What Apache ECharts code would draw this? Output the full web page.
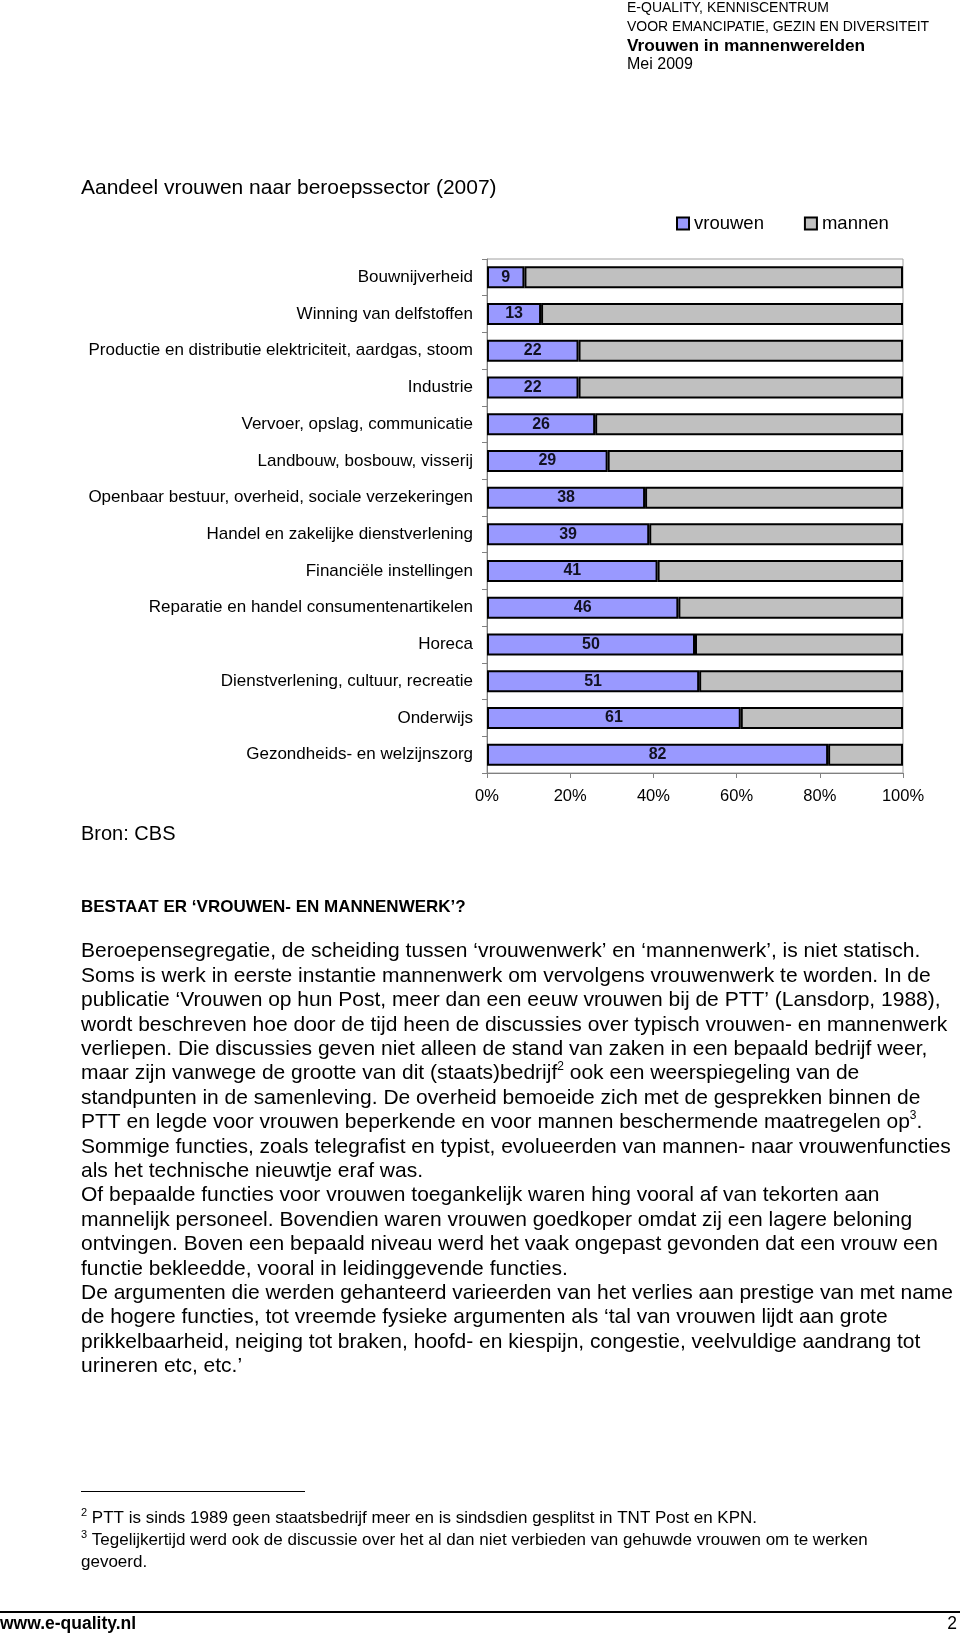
<!DOCTYPE html>
<html>
<head>
<meta charset="utf-8">
<script src="https://cdn.jsdelivr.net/npm/echarts@6/dist/echarts.min.js"></script>
<style>
html,body{margin:0;padding:0;background:#fff;}
#chart{width:960px;height:1634px;}
</style>
</head>
<body>
<div id="chart"></div>
<script>
var categories = [
  'Bouwnijverheid',
  'Winning van delfstoffen',
  'Productie en distributie elektriciteit, aardgas, stoom',
  'Industrie',
  'Vervoer, opslag, communicatie',
  'Landbouw, bosbouw, visserij',
  'Openbaar bestuur, overheid, sociale verzekeringen',
  'Handel en zakelijke dienstverlening',
  'Financiële instellingen',
  'Reparatie en handel consumentenartikelen',
  'Horeca',
  'Dienstverlening, cultuur, recreatie',
  'Onderwijs',
  'Gezondheids- en welzijnszorg'
];
var vrouwen = [9, 13, 22, 22, 26, 29, 38, 39, 41, 46, 50, 51, 61, 82];
var mannen = [91, 87, 78, 78, 74, 71, 62, 61, 59, 54, 50, 49, 39, 18];
var seriesNames = ['vrouwen', 'mannen'];
var xTicks = [0, 20, 40, 60, 80, 100];

var headerLines = [
  'E-QUALITY, KENNISCENTRUM',
  'VOOR EMANCIPATIE, GEZIN EN DIVERSITEIT',
  'Vrouwen in mannenwerelden',
  'Mei 2009'
];
var chartTitle = 'Aandeel vrouwen naar beroepssector (2007)';
var sourceText = 'Bron: CBS';
var heading = 'BESTAAT ER \u2018VROUWEN- EN MANNENWERK\u2019?';
var bodyLines = [
  'Beroepensegregatie, de scheiding tussen \u2018vrouwenwerk\u2019 en \u2018mannenwerk\u2019, is niet statisch.',
  'Soms is werk in eerste instantie mannenwerk om vervolgens vrouwenwerk te worden. In de',
  'publicatie \u2018Vrouwen op hun Post, meer dan een eeuw vrouwen bij de PTT\u2019 (Lansdorp, 1988),',
  'wordt beschreven hoe door de tijd heen de discussies over typisch vrouwen- en mannenwerk',
  'verliepen. Die discussies geven niet alleen de stand van zaken in een bepaald bedrijf weer,',
  'maar zijn vanwege de grootte van dit (staats)bedrijf{s|2} ook een weerspiegeling van de',
  'standpunten in de samenleving. De overheid bemoeide zich met de gesprekken binnen de',
  'PTT en legde voor vrouwen beperkende en voor mannen beschermende maatregelen op{s|3}.',
  'Sommige functies, zoals telegrafist en typist, evolueerden van mannen- naar vrouwenfuncties',
  'als het technische nieuwtje eraf was.',
  'Of bepaalde functies voor vrouwen toegankelijk waren hing vooral af van tekorten aan',
  'mannelijk personeel. Bovendien waren vrouwen goedkoper omdat zij een lagere beloning',
  'ontvingen. Boven een bepaald niveau werd het vaak ongepast gevonden dat een vrouw een',
  'functie bekleedde, vooral in leidinggevende functies.',
  'De argumenten die werden gehanteerd varieerden van het verlies aan prestige van met name',
  'de hogere functies, tot vreemde fysieke argumenten als \u2018tal van vrouwen lijdt aan grote',
  'prikkelbaarheid, neiging tot braken, hoofd- en kiespijn, congestie, veelvuldige aandrang tot',
  'urineren etc, etc.\u2019'
];
var footnoteLines = [
  '{s|2} PTT is sinds 1989 geen staatsbedrijf meer en is sindsdien gesplitst in TNT Post en KPN.',
  '{s|3} Tegelijkertijd werd ook de discussie over het al dan niet verbieden van gehuwde vrouwen om te werken',
  'gevoerd.'
];
var footerLeft = 'www.e-quality.nl';
var footerRight = '2';

var FONT = '"Liberation Sans", Arial, Helvetica, sans-serif';

var graphics = [];
function txt(x, y, text, size, weight, align, extra) {
  var st = {
    text: text, fontSize: size, fontFamily: FONT, fontWeight: weight || 'normal',
    fill: '#000', align: align || 'left', verticalAlign: 'middle'
  };
  if (extra) { for (var k in extra) st[k] = extra[k]; }
  graphics.push({ type: 'text', x: x, y: y, style: st, silent: true });
}
// header
txt(627, 8, headerLines[0], 14);
txt(627, 27, headerLines[1], 14);
txt(627, 46, headerLines[2], 17.3, 'bold');
txt(627, 65, headerLines[3], 16);
// title
txt(81, 188, chartTitle, 21);
// source
txt(81, 834, sourceText, 20);
// heading
txt(81, 907, heading, 17, 'bold');
// body
var supRich = { s: { fontSize: 12, fontFamily: FONT, lineHeight: 12, verticalAlign: 'top', fill: '#000' } };
for (var i = 0; i < bodyLines.length; i++) {
  txt(81, 951.6 + i * 24.4, bodyLines[i], 21, 'normal', 'left', { lineHeight: 26, rich: supRich });
}
// footnote separator
graphics.push({ type: 'line', shape: { x1: 81, y1: 1491.5, x2: 305, y2: 1491.5 }, style: { stroke: '#000', lineWidth: 1 }, silent: true });
var fnRich = { s: { fontSize: 11, fontFamily: FONT, lineHeight: 11, verticalAlign: 'top', fill: '#000' } };
for (var j = 0; j < footnoteLines.length; j++) {
  txt(81, 1518 + j * 22, footnoteLines[j], 17, 'normal', 'left', { lineHeight: 22, rich: fnRich });
}
// footer
graphics.push({ type: 'line', shape: { x1: 0, y1: 1612, x2: 960, y2: 1612 }, style: { stroke: '#000', lineWidth: 2 }, silent: true });
txt(0, 1624, footerLeft, 17.5, 'bold');
txt(957, 1624, footerRight, 17.5, 'normal', 'right');

var chart = echarts.init(document.getElementById('chart'), null, { renderer: 'canvas' });
chart.setOption({
  backgroundColor: '#fff',
  animation: false,
  textStyle: { fontFamily: FONT },
  legend: {
    data: seriesNames,
    left: 676, top: 214, padding: 0,
    itemWidth: 12, itemHeight: 12, itemGap: 40,
    icon: 'rect',
    textStyle: { fontSize: 18.5, color: '#000', fontFamily: FONT }
  },
  grid: {
    left: 487, top: 259, width: 416, height: 514,
    show: true, borderColor: '#a0a0a0', borderWidth: 1, backgroundColor: 'transparent'
  },
  xAxis: {
    type: 'value', min: xTicks[0], max: xTicks[xTicks.length - 1], interval: 20,
    axisLine: { show: true, lineStyle: { color: '#808080', width: 1 } },
    axisTick: { show: true, length: 5, lineStyle: { color: '#808080' } },
    splitLine: { show: false },
    axisLabel: { formatter: '{value}%', fontSize: 16.5, color: '#000', margin: 15, fontFamily: FONT }
  },
  yAxis: {
    type: 'category', data: categories, inverse: true,
    axisLine: { show: true, lineStyle: { color: '#808080', width: 1 } },
    axisTick: { show: true, length: 5, lineStyle: { color: '#808080' } },
    axisLabel: { fontSize: 17, color: '#000', margin: 14, fontFamily: FONT }
  },
  series: [
    {
      name: seriesNames[0], type: 'bar', stack: 'total', data: vrouwen, barWidth: 22,
      itemStyle: { color: '#9999FF', borderColor: '#000', borderWidth: 2 },
      label: { show: true, position: 'inside', fontSize: 16, fontWeight: 'bold', color: '#111122', fontFamily: FONT }
    },
    {
      name: seriesNames[1], type: 'bar', stack: 'total', data: mannen, barWidth: 22,
      itemStyle: { color: '#C0C0C0', borderColor: '#000', borderWidth: 2 },
      label: { show: false }
    }
  ],
  graphic: graphics
});
</script>
</body>
</html>
